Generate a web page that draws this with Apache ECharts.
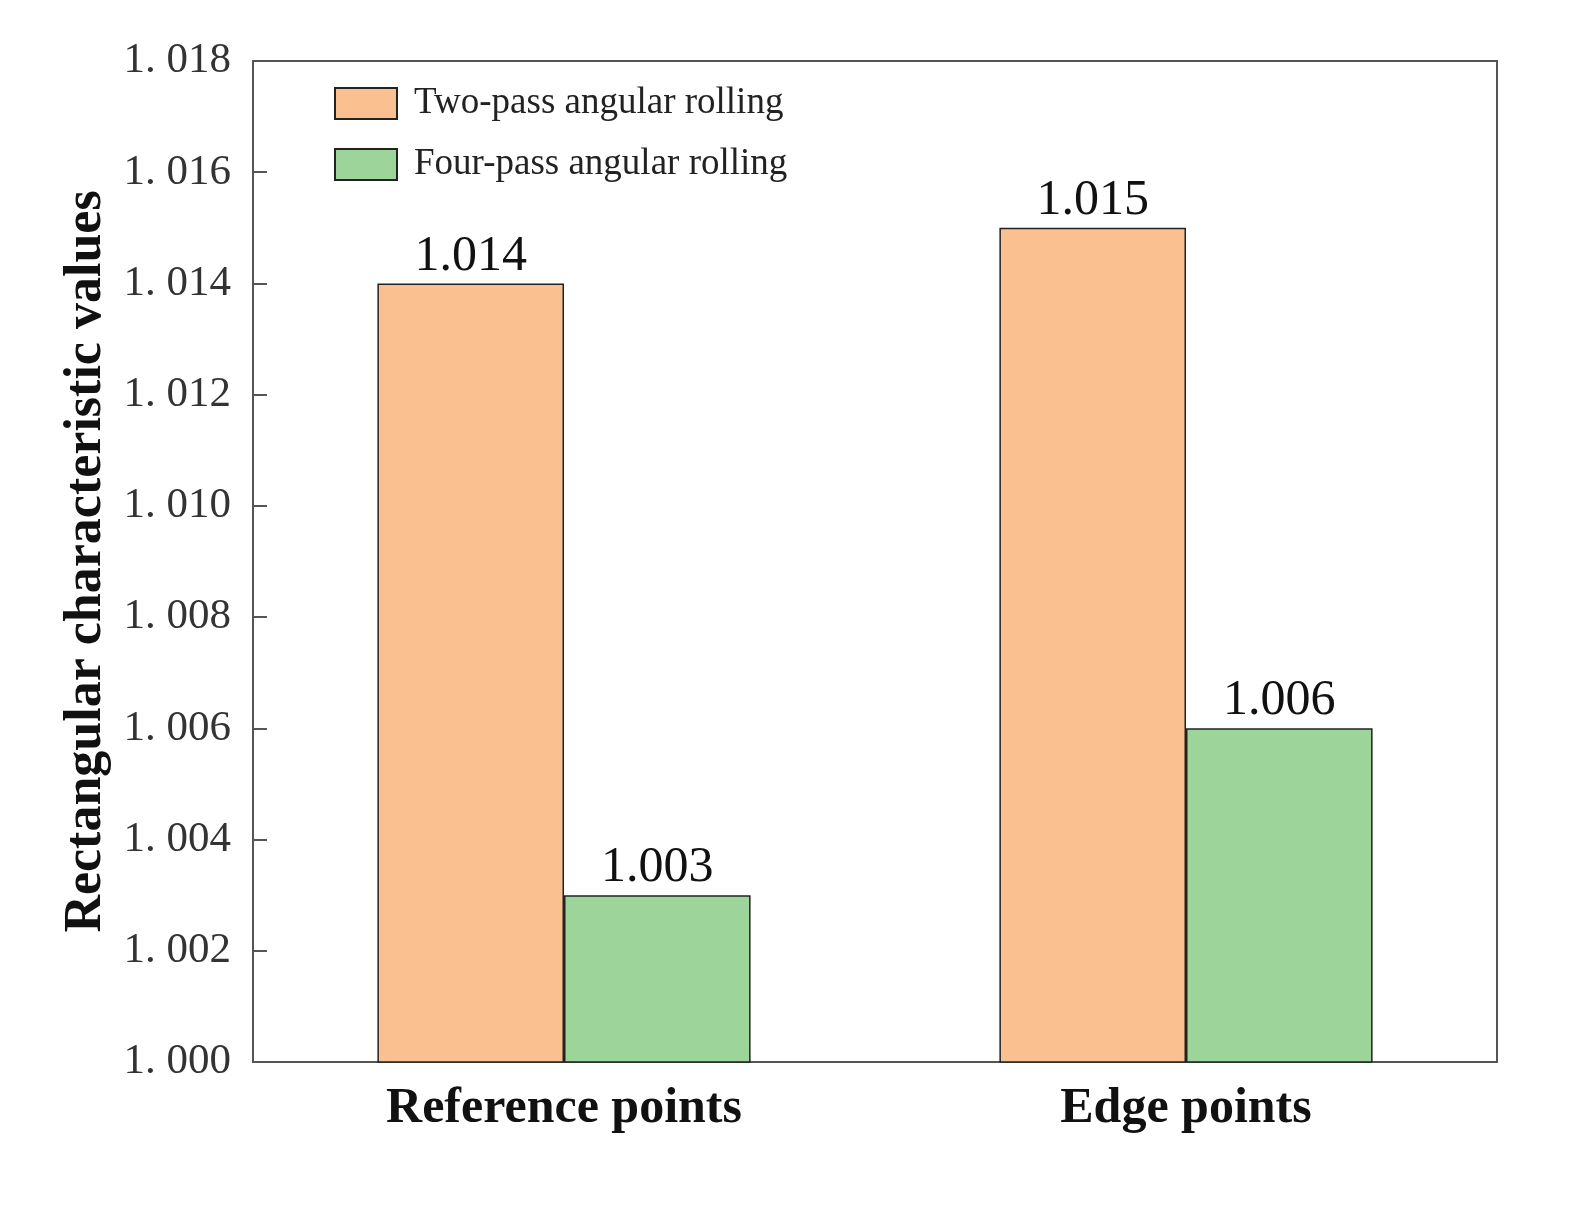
<!DOCTYPE html>
<html><head><meta charset="utf-8">
<script src="https://cdn.jsdelivr.net/npm/echarts@6/dist/echarts.min.js"></script>
<style>html,body{margin:0;padding:0;background:#fff}#c{width:1588px;height:1211px}</style>
</head><body><div id="c"></div>
<script>
const categories = ['Reference points', 'Edge points'];
const seriesNames = ['Two-pass angular rolling', 'Four-pass angular rolling'];
const twoPass = [1.014, 1.015];
const fourPass = [1.003, 1.006];
const yMin = 1.000, yMax = 1.018, yStep = 0.002;

const serif = '"Liberation Serif", "DejaVu Serif", serif';
const chart = echarts.init(document.getElementById('c'));
const labelCfg = {show: true, position: 'top', distance: 2, fontFamily: serif, fontSize: 50, color: '#111',
  formatter: p => p.value.toFixed(3)};
chart.setOption({
  animation: false,
  backgroundColor: '#fff',
  grid: {left: 253, right: 91, top: 61, bottom: 149, show: true, borderColor: '#555', borderWidth: 2, backgroundColor: 'transparent'},
  legend: {
    left: 329, top: 80, orient: 'vertical', itemWidth: 62, itemHeight: 31, itemGap: 24,
    icon: 'rect',
    textStyle: {fontFamily: serif, fontSize: 37, color: '#222', padding: [0, 0, 0, 12]},
    data: seriesNames
  },
  xAxis: {
    type: 'category', data: categories,
    axisLine: {lineStyle: {color: '#555', width: 2}},
    axisTick: {inside: true, length: 10, lineStyle: {color: '#555', width: 2}},
    axisLabel: {fontFamily: serif, fontWeight: 'bold', fontSize: 50, color: '#111', margin: 22}
  },
  yAxis: {
    type: 'value', min: yMin, max: yMax, interval: yStep,
    name: 'Rectangular characteristic values', nameLocation: 'middle', nameGap: 138,
    nameTextStyle: {fontFamily: serif, fontWeight: 'bold', fontSize: 52, color: '#111'},
    axisLine: {show: true, lineStyle: {color: '#555', width: 2}},
    axisTick: {show: true, inside: true, length: 14, lineStyle: {color: '#555', width: 2}},
    splitLine: {show: false},
    axisLabel: {fontFamily: serif, fontSize: 43, color: '#333', margin: 22,
      formatter: v => v.toFixed(3).replace('.', '. ')}
  },
  series: [
    {name: seriesNames[0], type: 'bar', data: twoPass, barGap: '0%', barCategoryGap: '40%',
      itemStyle: {color: '#FAC090', borderColor: '#222', borderWidth: 1.5}, label: labelCfg},
    {name: seriesNames[1], type: 'bar', data: fourPass,
      itemStyle: {color: '#9DD49A', borderColor: '#222', borderWidth: 1.5}, label: labelCfg}
  ]
});
</script></body></html>
